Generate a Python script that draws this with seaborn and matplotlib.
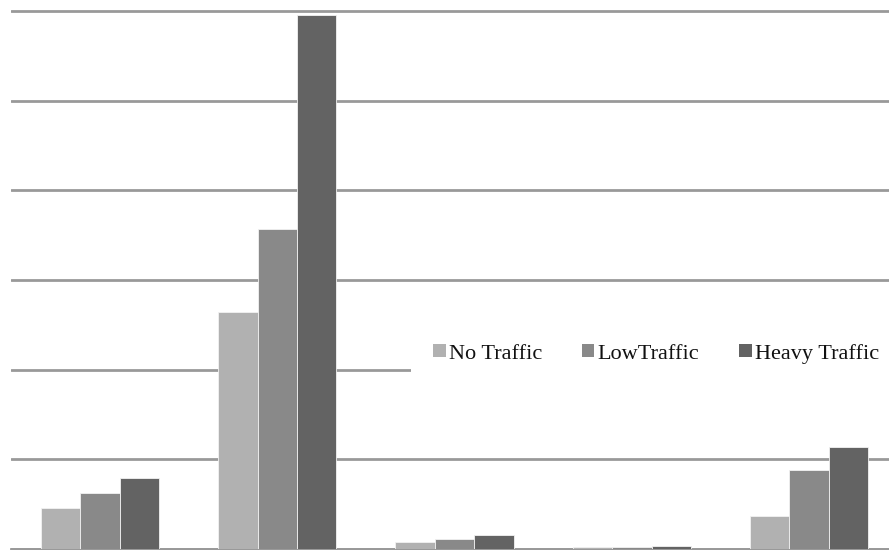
import matplotlib
matplotlib.use("Agg")
import matplotlib.pyplot as plt
import seaborn as sns
import pandas as pd
from matplotlib.patches import Patch

# Five scenarios, three traffic conditions
categories = ["S1", "S2", "S3", "S4", "S5"]
series_names = ["No Traffic", "LowTraffic", "Heavy Traffic"]
no_traffic = [0.46, 2.64, 0.08, 0.02, 0.37]
low_traffic = [0.63, 3.57, 0.11, 0.025, 0.88]
heavy_traffic = [0.79, 5.95, 0.16, 0.035, 1.14]
colors = ["#b1b1b1", "#898989", "#636363"]

rows = []
for name, vals in zip(series_names, [no_traffic, low_traffic, heavy_traffic]):
    for cat, v in zip(categories, vals):
        rows.append({"category": cat, "series": name, "value": v})
df = pd.DataFrame(rows)

sns.set_theme(style="white")
fig = plt.figure(figsize=(8.89, 5.5), dpi=100)
ax = fig.add_axes([0.0128, 0.0018, 0.997, 0.9864])

sns.barplot(data=df, x="category", y="value", hue="series",
            hue_order=series_names, order=categories, palette=colors,
            width=0.667, gap=0, edgecolor="#f2f2f2", linewidth=0.6,
            legend=False, ax=ax, zorder=3)

ax.set_xlim(-0.5, 4.5)
ax.set_ylim(0, 6.05)
ax.set_yticks(range(0, 7))
ax.yaxis.grid(True, color="#999999", linewidth=2.0, zorder=0)
ax.set_axisbelow(True)
ax.set_xlabel("")
ax.set_ylabel("")
ax.set_xticklabels([])
ax.set_yticklabels([])
ax.tick_params(length=0)
for side in ["top", "right", "left"]:
    ax.spines[side].set_visible(False)
ax.spines["bottom"].set_color("#999999")
ax.spines["bottom"].set_linewidth(2.0)

handles = [Patch(facecolor=c, edgecolor="none") for c in colors]
leg = fig.legend(handles, series_names, ncol=3, loc="center left",
                 bbox_to_anchor=(0.45, 0.357), frameon=True,
                 facecolor="white", edgecolor="none", framealpha=1,
                 prop={"family": "Liberation Serif", "size": 16},
                 handlelength=0.55, handleheight=0.55, handletextpad=0.15,
                 columnspacing=1.8, borderpad=1.0, fancybox=False)
for t in leg.get_texts():
    t.set_color("#111111")

fig.savefig("out.png", dpi=100, facecolor="white")
